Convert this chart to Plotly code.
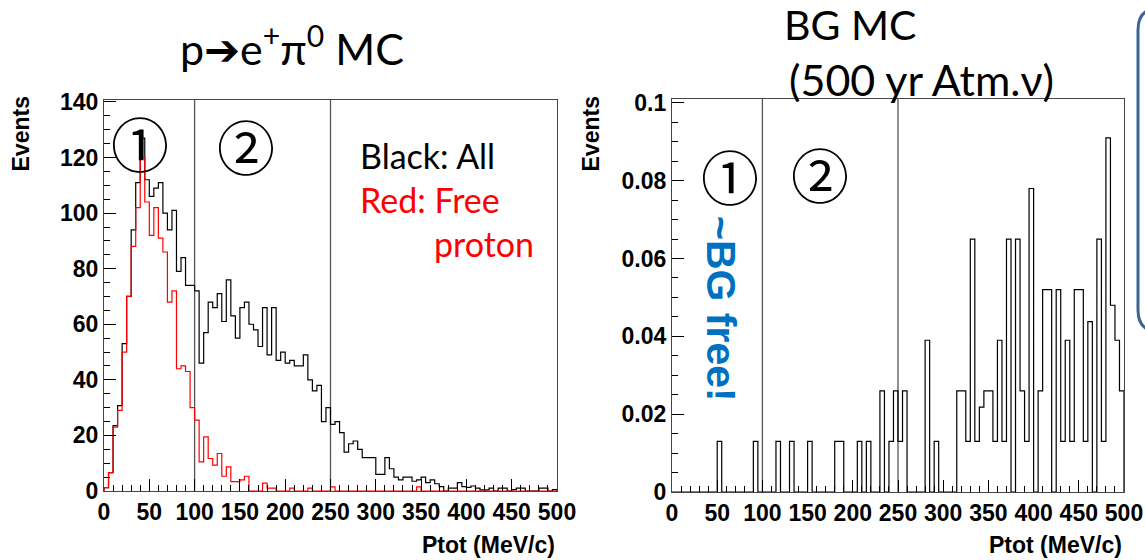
import plotly.graph_objects as go

# ---------------- data (5 MeV/c bins, 0-500 MeV/c) ----------------
bin_edges = list(range(0, 505, 5))

# p -> e+ pi0 MC, all events (black)
signal_all = [
    1.2, 6.6, 23.5, 30.7, 53, 70, 94, 111, 127, 112,
    106, 109, 111, 100, 94, 101, 79, 84, 74, 74,
    72, 46, 57, 68, 66, 71, 61, 76, 63, 55,
    66, 68, 60, 58, 52, 66, 49, 66, 47, 50,
    46, 47, 45, 45, 49, 40, 36, 38, 25, 30,
    24, 25, 21, 14, 17, 18, 15, 12, 12, 12,
    6, 6, 12, 8, 5, 4, 5, 5, 3.5, 4,
    5, 3, 4, 2.6, 1.6, 0, 1, 1, 3, 1.6,
    1.3, 1.8, 1, 0.4, 0.4, 1, 0, 1, 1, 0,
    0.5, 1, 1, 0, 0, 0, 1, 1, 0, 0.5,
]

# p -> e+ pi0 MC, free proton (red)
signal_free = [
    1.2, 6.6, 23, 29, 50, 70, 88, 102, 120, 104,
    92, 102, 91, 86, 68, 72, 44, 45, 43, 30,
    25.5, 10.5, 19.5, 11.7, 9.3, 13.5, 5.3, 8.7, 3.4, 3.4,
    4, 5.3, 0, 0, 0, 2.8, 1, 1, 0, 0,
    0, 1, 0, 0, 0, 1, 0, 0, 0, 0,
    1.5, 0, 0, 0, 0, 0, 0, 0, 0, 0,
    0, 0, 0, 0, 0, 0, 0, 0, 0, 1.5,
    0, 0, 0, 0, 0, 0, 0, 0, 0, 0,
    0, 0, 0, 0, 0, 0, 0, 0, 0, 0,
    0, 0, 0, 0, 0, 0, 0, 0, 0, 0,
]

# Background MC (500 yr atmospheric nu)
bg_atm = [
    0, 0, 0, 0, 0, 0, 0, 0, 0, 0,
    0.013, 0, 0, 0, 0, 0, 0, 0, 0.013, 0,
    0, 0, 0, 0.013, 0, 0, 0.013, 0, 0, 0,
    0.013, 0, 0, 0, 0, 0, 0.013, 0.013, 0, 0,
    0, 0.013, 0, 0.013, 0, 0, 0.026, 0, 0.013, 0.026,
    0.013, 0.026, 0, 0, 0, 0, 0.039, 0, 0.013, 0,
    0, 0, 0, 0.026, 0.026, 0.013, 0.065, 0.013, 0.0218, 0.026,
    0.026, 0.013, 0.039, 0.013, 0.065, 0, 0.065, 0.026, 0.013, 0.078,
    0, 0.026, 0.052, 0.052, 0, 0.052, 0.013, 0.039, 0.013, 0.052,
    0.052, 0.013, 0.0438, 0, 0.065, 0.013, 0.091, 0.048, 0.039, 0.026,
]

x_ticks = list(range(0, 501, 50))
left_y_ticks = list(range(0, 141, 20))
right_y_ticks = [0, 0.02, 0.04, 0.06, 0.08, 0.1]
right_y_text = ["0", "0.02", "0.04", "0.06", "0.08", "0.1"]
region_cuts = [100, 250]

W, H = 1145, 560


def px(x):
    return x / W


def py(y):
    return 1 - y / H


def step(vals):
    xs = [bin_edges[0]] + bin_edges[:-1] + [bin_edges[-1], bin_edges[-1]]
    ys = [0] + list(vals) + [vals[-1], 0]
    return xs, ys


fig = go.Figure()

xa, ya = step(signal_all)
fig.add_trace(go.Scatter(x=xa, y=ya, mode="lines", line=dict(color="black", width=1.2, shape="hv"),
                         xaxis="x", yaxis="y", showlegend=False, hoverinfo="skip"))
xf, yf = step(signal_free)
fig.add_trace(go.Scatter(x=xf, y=yf, mode="lines", line=dict(color="#ff0000", width=1.2, shape="hv"),
                         xaxis="x", yaxis="y", showlegend=False, hoverinfo="skip"))
xb, yb = step(bg_atm)
fig.add_trace(go.Scatter(x=xb, y=yb, mode="lines", line=dict(color="black", width=1.2, shape="hv"),
                         xaxis="x2", yaxis="y2", showlegend=False, hoverinfo="skip"))

AX_FONT = "Liberation Sans, Arial, Helvetica, sans-serif"
tick_font = dict(family=AX_FONT, size=23, color="black", weight="bold")
frame = dict(showline=True, mirror=True, linecolor="#444", linewidth=1.3, showgrid=False,
             zeroline=False, automargin=False)

xcommon = dict(range=[0, 500], tickvals=x_ticks, ticks="inside", ticklen=12, tickwidth=1, tickcolor="black",
               minor=dict(ticks="inside", dtick=10, ticklen=6, tickcolor="black", showgrid=False),
               tickfont=tick_font, **frame)

fig.update_layout(
    width=W, height=H,
    margin=dict(l=0, r=0, t=0, b=0),
    paper_bgcolor="white", plot_bgcolor="white",
    xaxis=dict(domain=[px(104), px(557)], anchor="y", **xcommon),
    yaxis=dict(domain=[py(491), py(100)], anchor="x", range=[0, 140.7], tickvals=left_y_ticks,
               ticks="inside", ticklen=12, tickcolor="black",
               minor=dict(ticks="inside", dtick=5, ticklen=6, tickcolor="black", showgrid=False),
               tickfont=tick_font, **frame),
    xaxis2=dict(domain=[px(672), px(1124)], anchor="y2", **xcommon),
    yaxis2=dict(domain=[py(492), py(99)], anchor="x2", range=[0, 0.101], tickvals=right_y_ticks,
                ticktext=right_y_text, ticks="inside", ticklen=12, tickcolor="black",
                minor=dict(ticks="inside", dtick=0.005, ticklen=6, tickcolor="black", showgrid=False),
                tickfont=tick_font, **frame),
)

# region separators
for xr, yr in (("x", "y domain"), ("x2", "y2 domain")):
    for c in region_cuts:
        fig.add_shape(type="line", xref=xr, yref=yr, x0=c, x1=c, y0=0, y1=1,
                      line=dict(color="#555", width=1.3), layer="below")

# callout box edge at the right border
path = "M {a},{b} L {c},{b} Q {d},{b} {d},{e} L {d},{f} Q {d},{g} {c},{g} L {a},{g}".format(
    a=px(1175), c=px(1160), d=px(1138), b=py(8), e=py(30), f=py(310), g=py(332))
fig.add_shape(type="path", xref="paper", yref="paper", path=path,
              line=dict(color="#3b6595", width=3))

TXT_FONT = "Lato, Open Sans, sans-serif"
title_font = dict(family=TXT_FONT, size=43, color="black")
circ_font = dict(family="Noto Sans CJK JP", size=58, color="black")
lab_font = dict(family=AX_FONT, size=23, color="black", weight="bold")
annos = [
    dict(x=px(292), y=py(45), text="p➔e<sup>+</sup>π<sup>0</sup> MC", font=title_font),
    dict(x=px(850), y=py(25), text="BG MC", font=dict(family=TXT_FONT, size=41, color="black")),
    dict(x=px(921), y=py(80), text="(500 yr Atm.ν)", font=title_font),
    dict(x=px(140), y=py(142), text="①", font=circ_font),
    dict(x=px(246), y=py(145), text="②", font=circ_font),
    dict(x=px(730), y=py(175), text="①", font=circ_font),
    dict(x=px(820), y=py(173), text="②", font=circ_font),
    dict(x=px(358), y=py(155), text="Black: All", xanchor="left",
         font=dict(family=TXT_FONT, size=34, color="black")),
    dict(x=px(358), y=py(199), text="Red: Free", xanchor="left",
         font=dict(family=TXT_FONT, size=34, color="#ff0000")),
    dict(x=px(536), y=py(243), text="proton", xanchor="right",
         font=dict(family=TXT_FONT, size=34, color="#ff0000")),
    dict(x=px(721), y=py(309), text="~BG free!", textangle=90,
         font=dict(family=AX_FONT, size=41, color="#0070c0", weight="bold")),
    dict(x=px(557), y=py(545), text="Ptot (MeV/c)", xanchor="right", font=lab_font),
    dict(x=px(1124), y=py(545), text="Ptot (MeV/c)", xanchor="right", font=lab_font),
    dict(x=px(20), y=py(95), text="Events", textangle=-90, yanchor="top", font=lab_font),
    dict(x=px(590), y=py(95), text="Events", textangle=-90, yanchor="top", font=lab_font),
]
for a in annos:
    a.setdefault("xanchor", "center")
    a.setdefault("yanchor", "middle")
    fig.add_annotation(xref="paper", yref="paper", showarrow=False, **a)

fig.write_html("out.html")
